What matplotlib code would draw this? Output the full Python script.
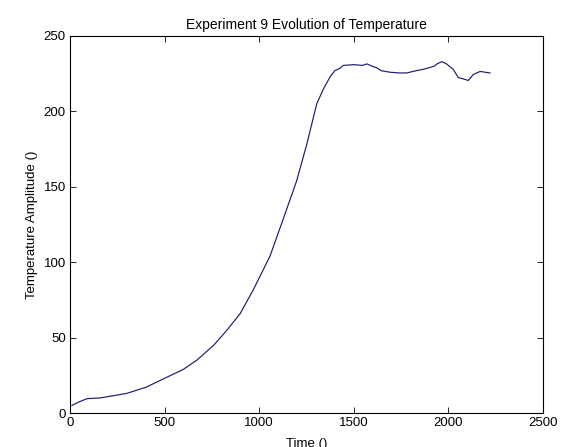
import numpy as np
import matplotlib
matplotlib.use('Agg')
import matplotlib.pyplot as plt

# temperature trace for experiment 9
time = [10, 50, 90, 160, 300, 400, 500, 600, 670, 760, 830, 900, 970,
        1057, 1128, 1198, 1251, 1304, 1340, 1375, 1400, 1425, 1445, 1500,
        1545, 1570, 1595, 1620, 1645, 1690, 1740, 1780, 1830, 1870, 1900,
        1925, 1940, 1965, 1990, 2025, 2052, 2080, 2105, 2132, 2150, 2167,
        2193, 2220]
temp = [5, 7.5, 9.5, 10, 13, 17, 23, 29, 35, 45, 55, 66, 82,
        104, 129, 154, 178, 205, 215, 223, 227, 228.5, 230.5, 231,
        230.5, 231.5, 230, 229, 227, 226, 225.5, 225.5, 227, 228, 229,
        230, 231.5, 233, 231.5, 228, 222.5, 221.5, 220.5, 224.5, 225.5,
        226.5, 226, 225.5]

xticks = [0, 500, 1000, 1500, 2000, 2500]
yticks = [0, 50, 100, 150, 200, 250]

plt.rcParams['font.family'] = ['Liberation Sans', 'DejaVu Sans']

fig = plt.figure(figsize=(5.63, 4.47), dpi=100)
ax = fig.add_axes([70/563, 34/447, 473/563, 377/447])

ax.plot(time, temp, '-', color='#1c1c70', lw=0.85)

ax.set_xlim(0, 2500)
ax.set_ylim(0, 250)
ax.set_xticks(xticks)
ax.set_yticks(yticks)
ax.tick_params(direction='in', length=4, width=0.6, labelsize=9.5,
               top=True, right=True, pad=3)
for s in ax.spines.values():
    s.set_linewidth(0.8)

ax.set_title('Experiment 9 Evolution of Temperature', fontsize=10, pad=5)
ax.set_xlabel('Time ()', fontsize=9.5, labelpad=6)
ax.set_ylabel('Temperature Amplitude ()', fontsize=9.5, labelpad=4)

fig.savefig('out.png', dpi=100)
